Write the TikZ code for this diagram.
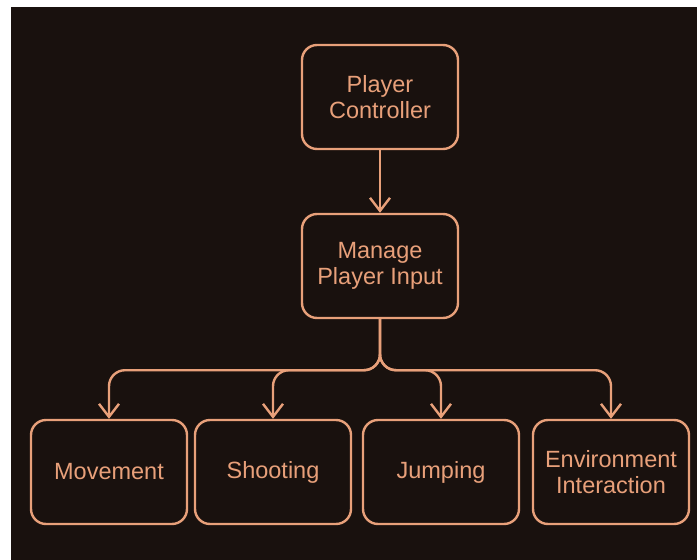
\documentclass[tikz,border=0pt]{standalone}
\usepackage{fontspec}
\setmainfont{Liberation Sans}
\usetikzlibrary{arrows.meta}
\definecolor{bgdark}{RGB}{25,17,14}
\definecolor{peach}{RGB}{232,160,122}
\begin{document}
\begin{tikzpicture}[x=1pt,y=-1pt,
  box/.style={draw=peach,line width=2.4pt,rounded corners=15pt,minimum width=156pt,minimum height=104pt,align=center,text=peach,font=\fontsize{23.5}{26.5}\selectfont},
  link/.style={draw=peach,line width=2.4pt,-{Straight Barb[length=13pt,width=20pt]},rounded corners=16pt}]
\fill[white] (0,0) rectangle (697,560);
\fill[bgdark] (11,7) rectangle (697,560);
\node[box] (PC) at (380,97) {Player\\Controller};
\node[box] (MPI) at (380,266) {Manage\\Player Input};
\node[box] (MOV) at (109,472) {Movement};
\node[box] (SHO) at (273,472) {Shooting};
\node[box] (JMP) at (441,472) {Jumping};
\node[box] (ENV) at (611,472) {Environment\\Interaction};
\draw[link] (PC) -- (MPI);
\draw[link] (MPI.south) -- ++(0,51) -| (MOV.north);
\draw[link] (MPI.south) -- ++(0,51) -| (SHO.north);
\draw[link] (MPI.south) -- ++(0,51) -| (JMP.north);
\draw[link] (MPI.south) -- ++(0,51) -| (ENV.north);
\end{tikzpicture}
\end{document}
